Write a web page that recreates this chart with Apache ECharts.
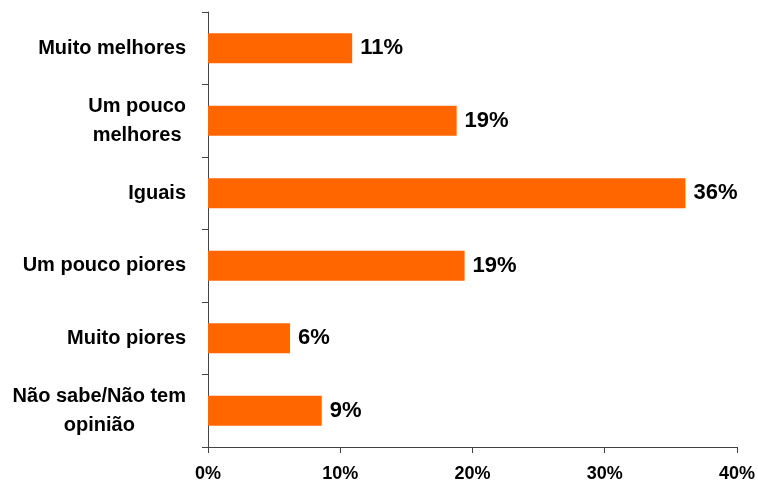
<!DOCTYPE html>
<html>
<head>
<meta charset="utf-8">
<script src="https://cdn.jsdelivr.net/npm/echarts@6/dist/echarts.min.js"></script>
<style>
  html, body { margin: 0; padding: 0; background: #fff; }
  #chart { width: 758px; height: 483px; }
</style>
</head>
<body>
<div id="chart"></div>
<script>
// categories, top to bottom
const categories = [
  'Muito melhores',
  'Um pouco\nmelhores',
  'Iguais',
  'Um pouco piores',
  'Muito piores',
  'Não sabe/Não tem\nopinião'
];
// percentages
const values = [10.9, 18.8, 36.1, 19.4, 6.2, 8.6];
const xTicks = [0, 10, 20, 30, 40];

const chart = echarts.init(document.getElementById('chart'));
chart.setOption({
  animation: false,
  textStyle: { fontFamily: 'Liberation Sans, Arial, sans-serif' },
  grid: { left: 208, right: 19, top: 12, bottom: 36 },
  xAxis: {
    type: 'value',
    min: xTicks[0],
    max: xTicks[xTicks.length - 1],
    interval: 10,
    splitLine: { show: false },
    axisLine: { show: true, lineStyle: { color: '#444', width: 1 } },
    axisTick: { show: true, length: 6, lineStyle: { color: '#444' } },
    axisLabel: {
      formatter: '{value}%',
      color: '#000',
      fontWeight: 'bold',
      fontSize: 18,
      margin: 18
    }
  },
  yAxis: {
    type: 'category',
    inverse: true,
    data: categories,
    axisLine: { show: true, lineStyle: { color: '#444', width: 1 } },
    axisTick: { show: true, length: 6, lineStyle: { color: '#444' } },
    axisLabel: {
      color: '#000',
      fontWeight: 'bold',
      fontSize: 20,
      margin: 22,
      lineHeight: 29,
      formatter: function (v) {
        return v.split('\n').map(function (s) { return '{c|' + s + '}'; }).join('\n');
      },
      rich: {
        c: { align: 'center', fontSize: 20, fontWeight: 'bold', color: '#000', lineHeight: 29 }
      }
    }
  },
  series: [
    {
      type: 'bar',
      data: values,
      barWidth: 30,
      itemStyle: { color: '#FF6600' },
      label: {
        show: true,
        position: 'right',
        distance: 8,
        color: '#000',
        fontWeight: 'bold',
        fontSize: 22,
        formatter: function (p) { return Math.round(p.value) + '%'; }
      }
    }
  ]
});
</script>
</body>
</html>
